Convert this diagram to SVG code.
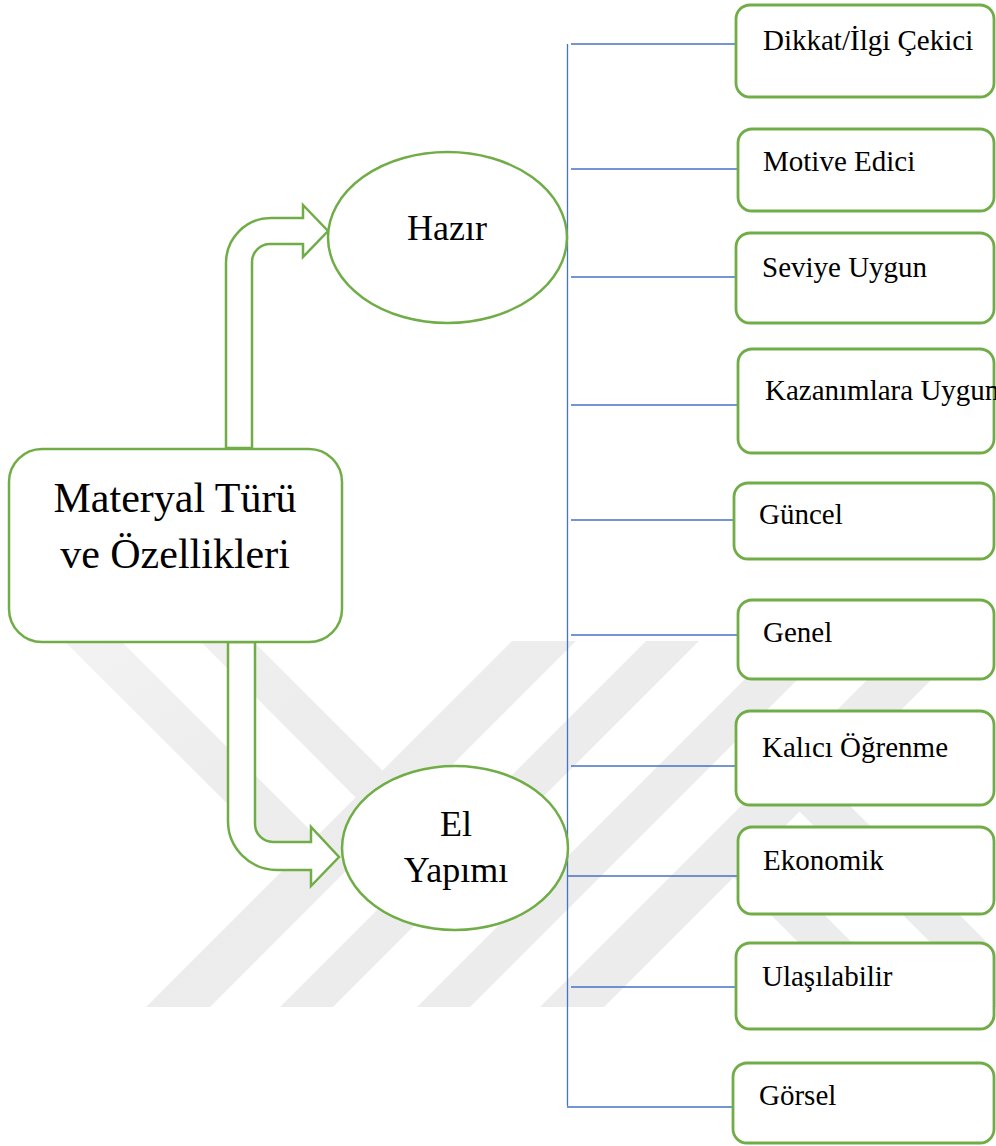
<svg xmlns="http://www.w3.org/2000/svg" width="996" height="1146" viewBox="0 0 996 1146">
<defs>
<linearGradient id="wmfade" gradientUnits="userSpaceOnUse" x1="0" y1="641" x2="300" y2="1007">
<stop offset="0" stop-color="#f4f4f4"/>
<stop offset="0.5" stop-color="#ededed"/>
<stop offset="1" stop-color="#ececec"/>
</linearGradient>
</defs>
<style>
.wm{fill:url(#wmfade);stroke:none}
.box{fill:#ffffff;stroke:#70ad47;stroke-width:2.8}
.shape{fill:#ffffff;stroke:#70ad47;stroke-width:2.5}
.conn{stroke:#4472c4;stroke-width:1.3;fill:none}
.t{font-family:"Liberation Serif","Times New Roman",serif;fill:#000000}
.s{font-size:29px}
</style>
<rect x="0" y="0" width="996" height="1146" fill="#ffffff"/>
<g id="watermark">
<polygon class="wm" points="146,1007 210,1007 576,641 512,641"/>
<polygon class="wm" points="280,1007 333,1007 699,641 646,641"/>
<polygon class="wm" points="417,1007 470,1007 836,641 783,641"/>
<polygon class="wm" points="540,1007 604,1007 970,641 906,641"/>
<polygon class="wm" points="64,641 121,641 340,860 312,888"/>
<polygon class="wm" points="200,641 253,641 401,789 374,816"/>
<polygon class="wm" points="916,1007 863,1007 715,859 742,832"/>
<polygon class="wm" points="1052,1007 995,1007 776,788 804,760"/>
</g>
<g id="connectors">
<line class="conn" x1="567.5" y1="44" x2="567.5" y2="1106"/>
<line class="conn" x1="571" y1="44" x2="736" y2="44"/>
<line class="conn" x1="571" y1="169" x2="738" y2="169"/>
<line class="conn" x1="571" y1="277" x2="736" y2="277"/>
<line class="conn" x1="571" y1="405" x2="738" y2="405"/>
<line class="conn" x1="571" y1="520" x2="734" y2="520"/>
<line class="conn" x1="571" y1="635" x2="738" y2="635"/>
<line class="conn" x1="571" y1="766" x2="736" y2="766"/>
<line class="conn" x1="567" y1="876" x2="738" y2="876"/>
<line class="conn" x1="571" y1="987" x2="736" y2="987"/>
<line class="conn" x1="567" y1="1107" x2="733" y2="1107"/>
</g>
<g id="arrow-hazir">
<path class="shape" d="M 226 448 L 226 263 A 45 45 0 0 1 271 218 L 303 218 L 303 205 L 328 231 L 303 257 L 303 244 L 270 244 A 18 18 0 0 0 252 262 L 252 448 Z"/>
</g>
<g id="arrow-el">
<path class="shape" d="M 228 642 L 228 821 A 49 49 0 0 0 277 870 L 311 870 L 311 886 L 339 857 L 311 827 L 311 842 L 273 842 A 18 18 0 0 1 255 824 L 255 642 Z"/>
</g>
<g id="node-materyal">
<rect class="shape" x="9" y="449" width="333" height="193" rx="33" ry="33"/>
<text class="t" x="175" y="512" font-size="42" text-anchor="middle">Materyal Türü</text>
<text class="t" x="175" y="568" font-size="42" text-anchor="middle">ve Özellikleri</text>
</g>
<g id="node-hazir">
<ellipse class="shape" cx="447.5" cy="237.5" rx="119.5" ry="85.5"/>
<text class="t" x="447" y="240" font-size="36" text-anchor="middle">Hazır</text>
</g>
<g id="node-el">
<ellipse class="shape" cx="455" cy="848" rx="113" ry="82"/>
<text class="t" x="456" y="836" font-size="36" text-anchor="middle">El</text>
<text class="t" x="456" y="882" font-size="36" text-anchor="middle">Yapımı</text>
</g>
<g id="node-dikkat">
<rect class="box" x="736" y="5" width="258" height="92" rx="14"/>
<text class="t s" x="763" y="50">Dikkat/İlgi Çekici</text>
</g>
<g id="node-motive">
<rect class="box" x="738" y="129" width="256" height="82" rx="14"/>
<text class="t s" x="763" y="171">Motive Edici</text>
</g>
<g id="node-seviye">
<rect class="box" x="736" y="233" width="258" height="90" rx="14"/>
<text class="t s" x="762" y="277">Seviye Uygun</text>
</g>
<g id="node-kazanim">
<rect class="box" x="738" y="349" width="256" height="104" rx="14"/>
<text class="t s" x="765" y="400">Kazanımlara Uygun</text>
</g>
<g id="node-guncel">
<rect class="box" x="734" y="483" width="260" height="76" rx="14"/>
<text class="t s" x="759" y="524">Güncel</text>
</g>
<g id="node-genel">
<rect class="box" x="738" y="600" width="256" height="79" rx="14"/>
<text class="t s" x="763" y="642">Genel</text>
</g>
<g id="node-kalici">
<rect class="box" x="736" y="711" width="258" height="94" rx="14"/>
<text class="t s" x="762" y="757">Kalıcı Öğrenme</text>
</g>
<g id="node-ekonomik">
<rect class="box" x="738" y="827" width="256" height="87" rx="14"/>
<text class="t s" x="763" y="870">Ekonomik</text>
</g>
<g id="node-ulasilabilir">
<rect class="box" x="736" y="943" width="258" height="86" rx="14"/>
<text class="t s" x="762" y="986">Ulaşılabilir</text>
</g>
<g id="node-gorsel">
<rect class="box" x="733" y="1063" width="261" height="80" rx="14"/>
<text class="t s" x="759" y="1105">Görsel</text>
</g>
</svg>
